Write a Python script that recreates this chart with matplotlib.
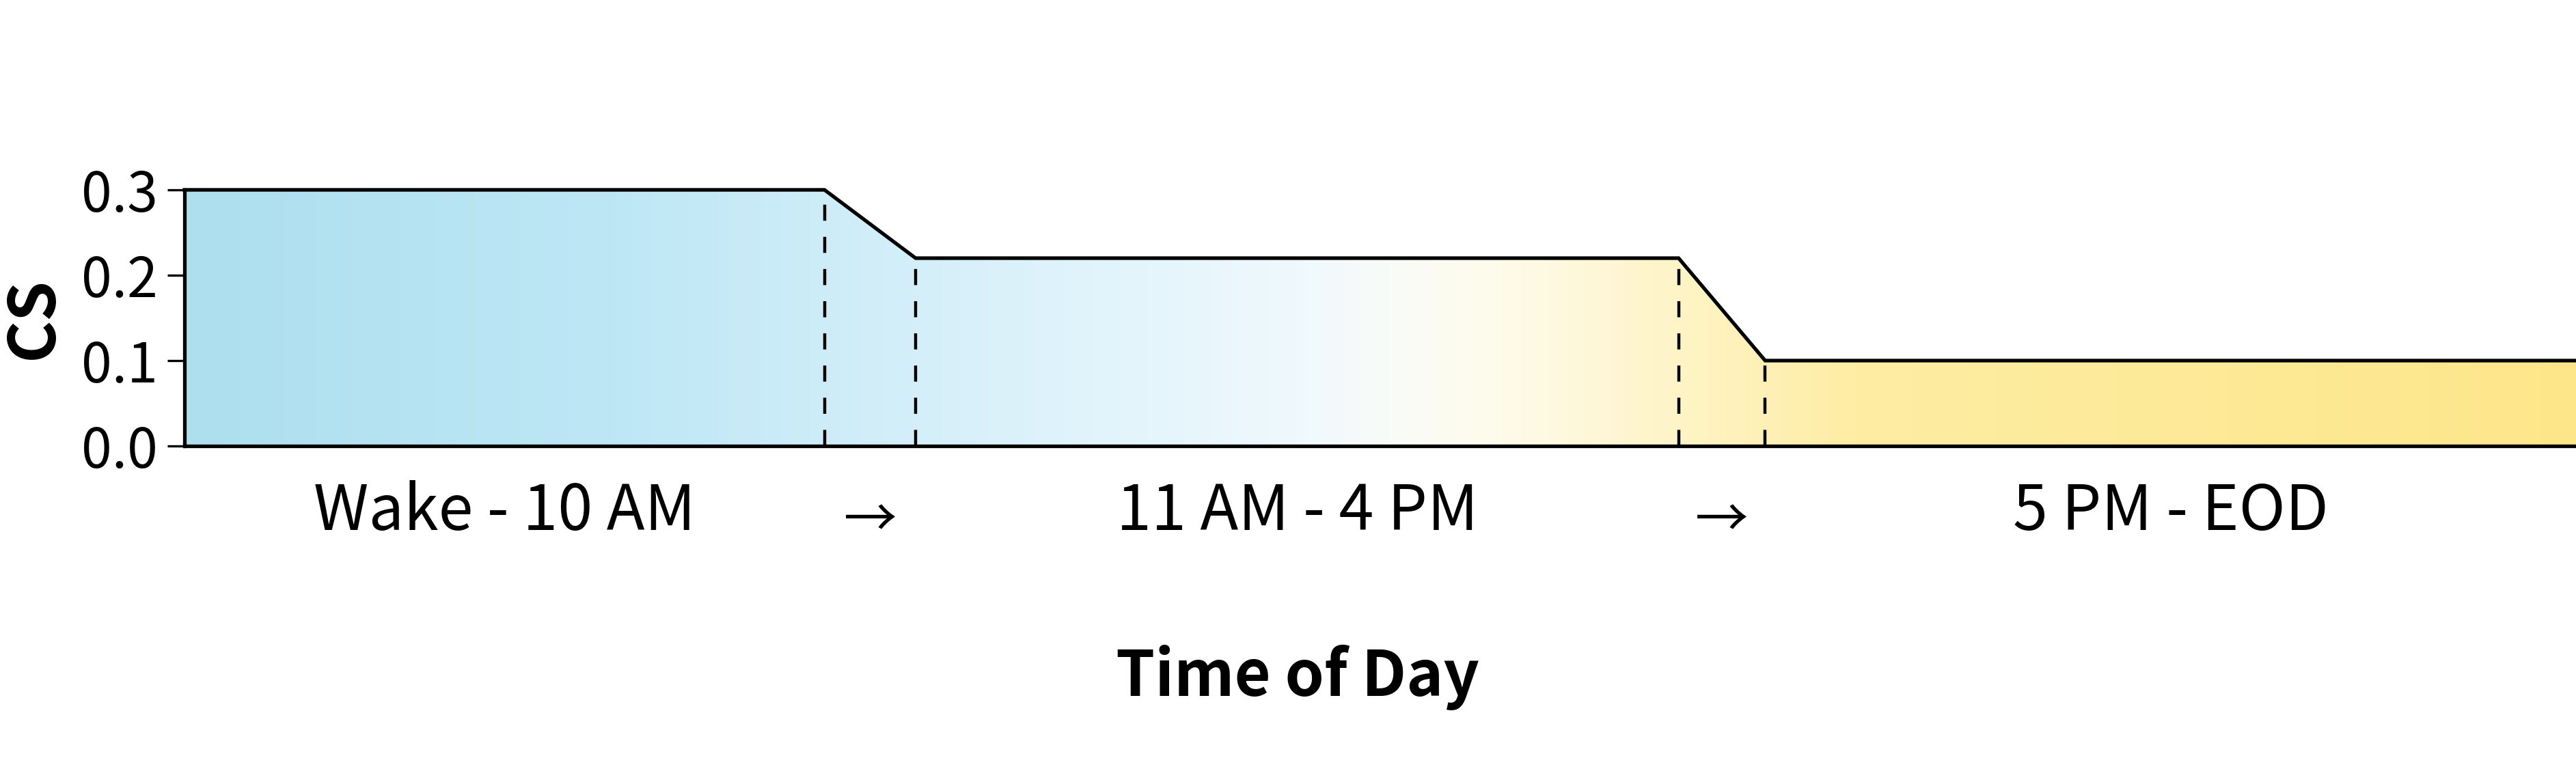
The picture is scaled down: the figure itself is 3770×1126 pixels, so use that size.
import numpy as np
import matplotlib
matplotlib.use("Agg")
import matplotlib.pyplot as plt
import matplotlib.transforms as mtransforms
from matplotlib.colors import LinearSegmentedColormap
from matplotlib.patches import Polygon

plt.rcParams['font.family'] = ['Noto Sans CJK JP', 'DejaVu Sans']

# profile of CS through the day (x in arbitrary time units)
x_pts = [0, 2.81, 3.21, 6.56, 6.94, 10.5]
cs_vals = [0.3, 0.3, 0.22, 0.22, 0.1, 0.1]
period_labels = ["Wake - 10 AM", "\u2192", "11 AM - 4 PM", "\u2192", "5 PM - EOD"]
y_ticks = [0.0, 0.1, 0.2, 0.3]

# blue (morning) -> white -> yellow (evening)
grad_colors = [(0.0, "#ADDFEF"), (0.18, "#BEE7F5"), (0.35, "#DCF2FB"),
               (0.47, "#F0F9FD"), (0.51, "#FAFCF7"), (0.55, "#FEFBEA"),
               (0.70, "#FEEDA3"), (1.0, "#FDE68A")]
cmap = LinearSegmentedColormap.from_list("day", grad_colors)

fig = plt.figure(figsize=(18.85, 5.63), dpi=200)
ax = fig.add_axes([270/3770, 1 - 653/1126, 3500/3770, (653 - 278)/1126])

xmax = x_pts[-1]
ymax = max(cs_vals)

# gradient fill clipped to the area under the curve
grad = np.linspace(0, 1, 512).reshape(1, -1)
img = ax.imshow(grad, cmap=cmap, aspect='auto', extent=[0, xmax, 0, ymax],
                origin='lower', zorder=1)
verts = [(x_pts[0], 0)] + list(zip(x_pts, cs_vals)) + [(x_pts[-1], 0)]
poly = Polygon(verts, closed=True, facecolor='none', edgecolor='none')
ax.add_patch(poly)
img.set_clip_path(poly)

# outline
ax.plot(x_pts, cs_vals, color='black', lw=1.9, zorder=3, solid_joinstyle='miter',
        clip_on=False)
ax.plot([x_pts[0], x_pts[-1]], [0, 0], color='black', lw=1.9, zorder=3, clip_on=False)

# dashed markers at each transition
for xv, yv in zip(x_pts[1:-1], cs_vals[1:-1]):
    ax.plot([xv, xv], [0, yv], color='black', lw=1.6, dashes=(5.3, 5.3), zorder=2)

mids = [(x_pts[i] + x_pts[i + 1]) / 2 for i in range(len(x_pts) - 1)]
ax.set_xticks(mids)
ax.set_xticklabels(period_labels, fontsize=33)
ax.tick_params(axis='x', length=0, pad=18)

# arrows are a little smaller and sit lower in the reference
shift = mtransforms.ScaledTranslation(0, -8 / 72, fig.dpi_scale_trans)
for lab in ax.get_xticklabels():
    if lab.get_text() == "\u2192":
        lab.set_fontsize(28)
        lab.set_transform(lab.get_transform() + shift)

ax.set_yticks(y_ticks)
ax.set_yticklabels([f"{v:.1f}" for v in y_ticks], fontsize=29)
ax.tick_params(axis='y', length=9, width=1.2, pad=5)

ax.set_xlim(0, xmax)
ax.set_ylim(0, ymax)

for side in ['top', 'right', 'bottom']:
    ax.spines[side].set_visible(False)
ax.spines['left'].set_linewidth(1.9)

ax.set_ylabel("CS", fontsize=34, fontweight='bold', labelpad=8)
ax.set_xlabel("Time of Day", fontsize=33, fontweight='bold', labelpad=50)
ax.xaxis.label.set_x((1899 - 270) / 3500)

fig.savefig("out.png", dpi=200)
